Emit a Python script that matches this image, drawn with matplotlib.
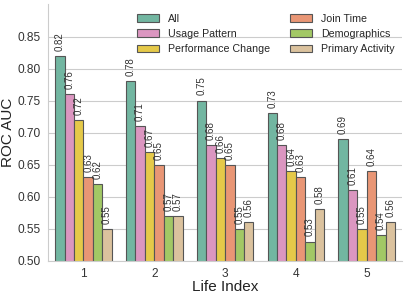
import matplotlib
matplotlib.use("Agg")
import matplotlib.pyplot as plt
import numpy as np
import seaborn as sns

sns.set_style("whitegrid")
plt.rcParams['font.family'] = ['Liberation Sans', 'DejaVu Sans']

groups = ["1", "2", "3", "4", "5"]
series = ["All", "Usage Pattern", "Performance Change", "Join Time", "Demographics", "Primary Activity"]
values = {
    "All": [0.82, 0.78, 0.75, 0.73, 0.69],
    "Usage Pattern": [0.76, 0.71, 0.68, 0.68, 0.61],
    "Performance Change": [0.72, 0.67, 0.66, 0.64, 0.55],
    "Join Time": [0.63, 0.65, 0.65, 0.63, 0.64],
    "Demographics": [0.62, 0.57, 0.55, 0.53, 0.54],
    "Primary Activity": [0.55, 0.57, 0.56, 0.58, 0.56],
}
base = ["#66c2a5", "#e78ac3", "#ffd92f", "#fc8d62", "#a6d854", "#e5c494"]
colors = [sns.desaturate(c, 0.75) for c in base]

fig, ax = plt.subplots(figsize=(4.07, 2.99), dpi=100)
x = np.arange(len(groups))
w = 0.8 / len(series)
for i, s in enumerate(series):
    pos = x - 0.4 + w / 2 + i * w
    bars = ax.bar(pos, values[s], w, color=colors[i], edgecolor="#555555", linewidth=0.8, label=s, zorder=2)
    for b, v in zip(bars, values[s]):
        ax.text(b.get_x() + b.get_width() / 2, v + 0.008, f"{v:.2f}", rotation=90,
                ha="center", va="bottom", fontsize=7, color="#333333")

ax.set_ylim(0.5, 0.9)
ax.set_xlim(-0.5, 4.5)
ax.set_yticks([0.50, 0.55, 0.60, 0.65, 0.70, 0.75, 0.80, 0.85])
ax.set_xticks(x)
ax.set_xticklabels(groups)
ax.tick_params(labelsize=8.6, colors="#333333", pad=2)
ax.set_xlabel("Life Index", fontsize=11, color="#222222", labelpad=0)
ax.set_ylabel("ROC AUC", fontsize=11, color="#222222")
ax.yaxis.set_label_coords(-0.092, 0.5)
ax.grid(axis="x", visible=False)
for sp in ["top", "right"]:
    ax.spines[sp].set_visible(False)
ax.legend(ncol=2, loc="upper left", frameon=False, fontsize=7.7,
          bbox_to_anchor=(0.314, 0.987), bbox_transform=fig.transFigure,
          handlelength=2.0, handletextpad=0.85, columnspacing=1.9, labelspacing=0.5)
fig.subplots_adjust(left=0.118, right=0.988, top=0.985, bottom=0.128)
fig.savefig("out.png", dpi=100)
